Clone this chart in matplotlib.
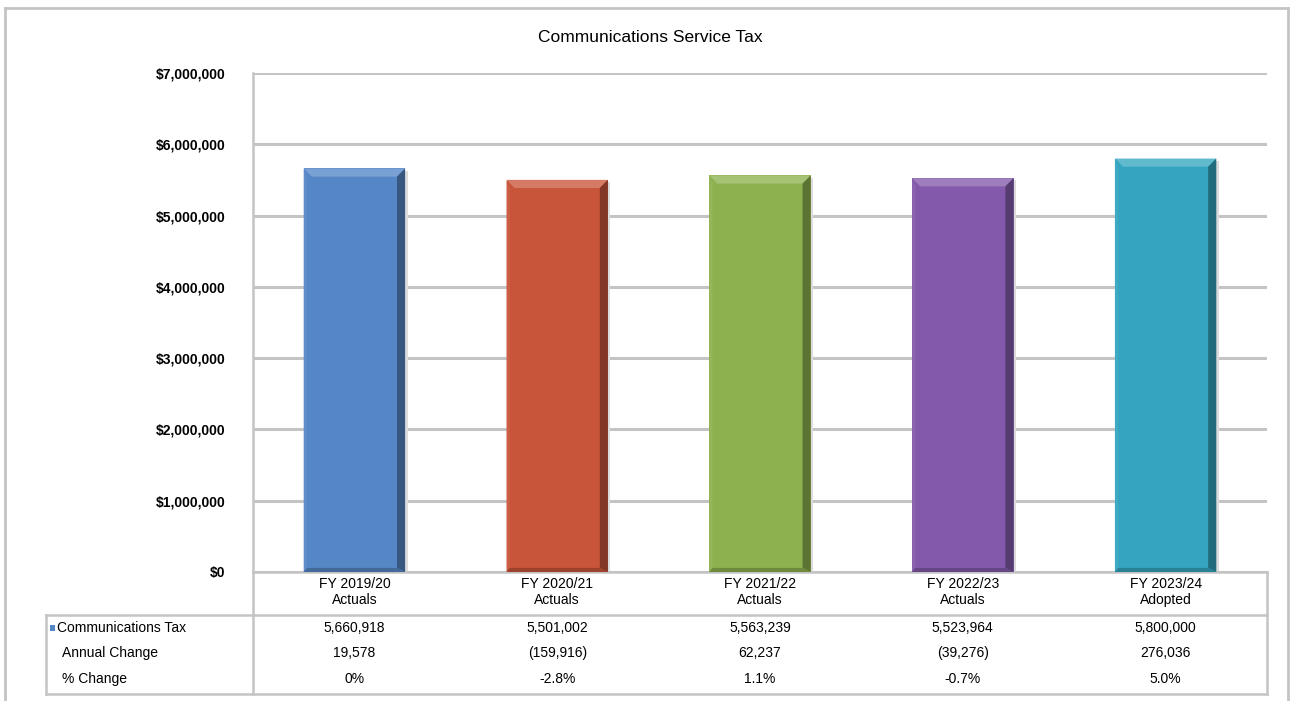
import matplotlib
matplotlib.use("Agg")
import matplotlib.pyplot as plt
import matplotlib.transforms as mtransforms
from matplotlib.lines import Line2D
from matplotlib.patches import Polygon, Rectangle
from matplotlib.ticker import FuncFormatter
import numpy as np

plt.rcParams["font.family"] = ["Liberation Sans", "DejaVu Sans"]

# ── data ──────────────────────────────────────────────────────────────────────
categories = ["FY 2019/20\nActuals", "FY 2020/21\nActuals", "FY 2021/22\nActuals",
              "FY 2022/23\nActuals", "FY 2023/24\nAdopted"]
tax_values = [5660918, 5501002, 5563239, 5523964, 5800000]
annual_change = ["19,578", "(159,916)", "62,237", "(39,276)", "276,036"]
pct_change = ["0%", "-2.8%", "1.1%", "-0.7%", "5.0%"]
row_labels = ["Communications Tax", "Annual Change", "% Change"]
bar_colors = ["#5586C6", "#C8553A", "#8DB14E", "#835AAB", "#34A5C0"]
y_ticks = [0, 1000000, 2000000, 3000000, 4000000, 5000000, 6000000, 7000000]

W, H = 1290, 701
GRID = "#C4C4C4"


def fx(px):
    return px / W


def fy(py):
    return 1 - py / H


def shade(color, f):
    c = np.array(matplotlib.colors.to_rgb(color))
    if f >= 0:
        c = c + (1 - c) * f
    else:
        c = c * (1 + f)
    return tuple(np.clip(c, 0, 1))


fig = plt.figure(figsize=(W / 100, H / 100), dpi=100)
fig.patch.set_facecolor("white")

ax_l, ax_r, ax_t, ax_b = 253, 1267, 73, 572
ax = fig.add_axes([fx(ax_l), fy(ax_b), fx(ax_r - ax_l), fy(ax_t) - fy(ax_b)])

x = np.arange(len(categories))
bar_w = 0.5
ax.set_xlim(-0.5, len(categories) - 0.5)
ax.set_ylim(0, 7000000)

# gridlines
ax.set_yticks(y_ticks)
ax.yaxis.set_major_formatter(FuncFormatter(lambda v, _: f"${v:,.0f}"))
ax.grid(axis="y", color=GRID, linewidth=2.2, zorder=0)
ax.tick_params(axis="y", length=0, pad=20, labelsize=10)
for lbl in ax.get_yticklabels():
    lbl.set_fontweight("bold")
ax.set_xticks([])
for side in ("top", "right"):
    ax.spines[side].set_visible(False)
for side in ("left", "bottom"):
    ax.spines[side].set_color(GRID)
    ax.spines[side].set_linewidth(1.8)

# bevelled bars
bx = 0.04        # bevel width in data-x units
by = 115000      # bevel height in data-y units
for xi, val, col in zip(x, tax_values, bar_colors):
    x0, x1 = xi - bar_w / 2, xi + bar_w / 2
    # soft shadow
    ax.add_patch(Rectangle((x0 + 0.012, 0), bar_w, val - 30000,
                           facecolor="#DCDCDC", edgecolor="none", zorder=2))
    ax.bar(xi, val, bar_w, color=col, linewidth=0, zorder=3)
    faces = [
        ([(x0, val), (x1, val), (x1 - bx, val - by), (x0 + bx, val - by)], shade(col, 0.22)),
        ([(x1, val), (x1, 0), (x1 - bx, by * 0.5), (x1 - bx, val - by)], shade(col, -0.35)),
        ([(x0, val), (x0 + bx * 0.4, val - by), (x0 + bx * 0.4, by * 0.5), (x0, 0)], shade(col, 0.06)),
        ([(x0, 0), (x1, 0), (x1 - bx, by * 0.5), (x0 + bx * 0.4, by * 0.5)], shade(col, -0.22)),
    ]
    for pts, fc in faces:
        ax.add_patch(Polygon(pts, closed=True, facecolor=fc, edgecolor="none", zorder=4))

# title
fig.text(fx(650), fy(37), "Communications Service Tax", ha="center", va="center",
         fontsize=12.5)

# ── data table under the axis ────────────────────────────────────────────────
tr = mtransforms.blended_transform_factory(ax.transData, fig.transFigure)
for xi, cat in zip(x, categories):
    fig.text(xi, fy(592), cat, transform=tr, ha="center", va="center",
             fontsize=10, linespacing=1.15)

row_y = [628, 653, 679]
rows = [[f"{v:,}" for v in tax_values], annual_change, pct_change]
for ry, lab, vals in zip(row_y, row_labels, rows):
    fig.text(fx(57 if ry == row_y[0] else 62), fy(ry), lab, ha="left", va="center",
             fontsize=10)
    for xi, v in zip(x, vals):
        fig.text(xi, fy(ry), v, transform=tr, ha="center", va="center", fontsize=10)

# legend key in front of the first row label
fig.add_artist(Rectangle((fx(50), fy(631)), fx(5), fy(625) - fy(631),
                         facecolor=bar_colors[0], edgecolor="none",
                         transform=fig.transFigure))


def pline(xs, ys, color=GRID, lw=1.8):
    fig.add_artist(Line2D([fx(v) for v in xs], [fy(v) for v in ys],
                          color=color, linewidth=lw, transform=fig.transFigure))


# table borders
pline([ax_l, ax_l], [ax_b, 694])
pline([ax_r, ax_r], [ax_b, 694])
pline([46, ax_r], [615, 615])
pline([46, ax_r], [694, 694])
pline([46, 46], [615, 694])

# outer chart frame
pline([5, 1288], [8, 8], lw=2)
pline([5, 5], [8, 701], lw=2)
pline([1288, 1288], [8, 701], lw=2)

fig.savefig("out.png", dpi=100, facecolor="white")
